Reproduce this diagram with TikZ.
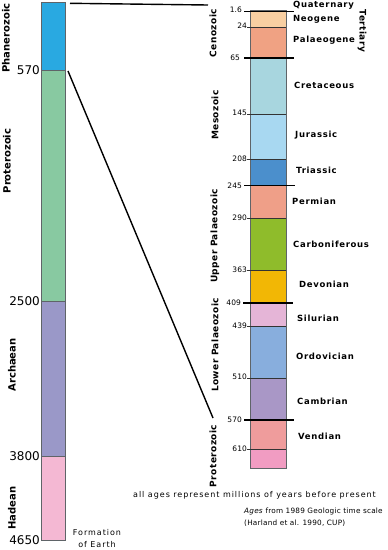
\documentclass[tikz,border=0pt]{standalone}
\usepackage{fontspec}
\setmainfont{DejaVu Sans}
\usepackage{tikz}
\usetikzlibrary{positioning}
\usepackage{xcolor}
\definecolor{phanc}{HTML}{29A9E1}
\definecolor{protc}{HTML}{88C9A1}
\definecolor{archc}{HTML}{9A98C8}
\definecolor{hadc}{HTML}{F4B8D3}
\definecolor{quatc}{HTML}{C9C39A}
\definecolor{neoc}{HTML}{F8CFA2}
\definecolor{palc}{HTML}{F0A283}
\definecolor{cretc}{HTML}{A8D6DF}
\definecolor{jurc}{HTML}{A8D8F1}
\definecolor{triac}{HTML}{4B8FCC}
\definecolor{permc}{HTML}{EF9F88}
\definecolor{carbc}{HTML}{8FBC2B}
\definecolor{devc}{HTML}{F2B705}
\definecolor{silc}{HTML}{E5B5D7}
\definecolor{ordc}{HTML}{88AEDD}
\definecolor{cambc}{HTML}{A997C6}
\definecolor{vendc}{HTML}{EF9C9C}
\definecolor{lastc}{HTML}{F19CC2}
\definecolor{edgec}{HTML}{5F6468}

\begin{document}
\begin{tikzpicture}[x=1pt, y=-1pt,
  period/.style={font=\bfseries\fontsize{8.5}{9}\selectfont\addfontfeature{LetterSpace=8}, anchor=west, inner sep=0pt},
  era/.style={font=\bfseries\fontsize{9}{9}\selectfont\addfontfeature{LetterSpace=5}, rotate=90, inner sep=0pt},
  eon/.style={font=\bfseries\fontsize{10}{10}\selectfont, rotate=90, inner sep=0pt},
  bigage/.style={font=\fontsize{12}{12}\selectfont, anchor=east, inner sep=0pt},
  smallage/.style={font=\fontsize{7.5}{8}\selectfont, anchor=east, inner sep=0pt},
  bound/.style={line width=1.8pt},
  link/.style={line width=1.4pt}]
  \useasboundingbox (0,0) rectangle (388,550);
  % left column: eons
  \fill[phanc] (41,2) rectangle (65.5,70.5);
  \fill[protc] (41,70.5) rectangle (65.5,301);
  \fill[archc] (41,301) rectangle (65.5,456.5);
  \fill[hadc] (41,456.5) rectangle (65.5,540);
  \draw[edgec] (41,70.5) -- (65.5,70.5);
  \draw[edgec] (41,301) -- (65.5,301);
  \draw[edgec] (41,456.5) -- (65.5,456.5);
  \draw[edgec] (41,2) rectangle (65.5,540);
  \node[bigage] at (40,70.5) {570};
  \node[bigage] at (40,301) {2500};
  \node[bigage] at (40,456.5) {3800};
  \node[bigage] at (40,540) {4650};
  \node[eon] at (6,38) {Phanerozoic};
  \node[eon] at (7,161) {Proterozoic};
  \node[eon] at (12,365) {Archaean};
  \node[eon] at (12,508) {Hadean};
  \node[font=\fontsize{8}{12}\selectfont\addfontfeature{LetterSpace=12}, align=center, inner sep=0pt] at (97,539) {Formation\\of Earth};
  % right column: periods
  \fill[quatc] (250,10) rectangle (286,11.5);
  \fill[neoc] (250,11.5) rectangle (286,26.7);
  \fill[palc] (250,26.7) rectangle (286,58);
  \fill[cretc] (250,58) rectangle (286,114);
  \fill[jurc] (250,114) rectangle (286,159);
  \fill[triac] (250,159) rectangle (286,185.5);
  \fill[permc] (250,185.5) rectangle (286,218);
  \fill[carbc] (250,218) rectangle (286,270);
  \fill[devc] (250,270) rectangle (286,303);
  \fill[silc] (250,303) rectangle (286,326);
  \fill[ordc] (250,326) rectangle (286,378);
  \fill[cambc] (250,378) rectangle (286,420);
  \fill[vendc] (250,420) rectangle (286,449);
  \fill[lastc] (250,449) rectangle (286,468);
  \draw[edgec] (250,10) rectangle (286,468);
  \draw[black!80] (247,26.7) -- (286,26.7);
  \draw[black!80] (247,114) -- (286,114);
  \draw[black!80] (247,159) -- (286,159);
  \draw[black!80] (247,218) -- (286,218);
  \draw[black!80] (247,270) -- (286,270);
  \draw[black!80] (247,326) -- (286,326);
  \draw[black!80] (247,378) -- (286,378);
  \draw[black!80] (247,449) -- (286,449);
  \draw[bound] (244,11.5) -- (294,11.5);
  \draw[bound] (244,58) -- (294,58);
  \draw[bound] (244,185.5) -- (295,185.5);
  \draw[bound] (243,303) -- (293,303);
  \draw[bound] (244,420) -- (294,420);
  \node[smallage] at (242,10) {1.6};
  \node[smallage] at (247,26) {24};
  \node[smallage] at (240,58) {65};
  \node[smallage] at (247,113) {145};
  \node[smallage] at (247,159) {208};
  \node[smallage] at (242,185.5) {245};
  \node[smallage] at (247,218) {290};
  \node[smallage] at (247,270) {363};
  \node[smallage] at (241,303) {409};
  \node[smallage] at (247,326) {439};
  \node[smallage] at (247,377) {510};
  \node[smallage] at (242,420) {570};
  \node[smallage] at (247,449) {610};
  \node[period] at (293,5) {Quaternary};
  \node[period] at (293,19) {Neogene};
  \node[period] at (293,40) {Palaeogene};
  \node[period] at (294,85) {Cretaceous};
  \node[period] at (295,135) {Jurassic};
  \node[period] at (296,170) {Triassic};
  \node[period] at (292,201) {Permian};
  \node[period] at (293,244) {Carboniferous};
  \node[period] at (299,284) {Devonian};
  \node[period] at (297,318) {Silurian};
  \node[period] at (296,356) {Ordovician};
  \node[period] at (297,401) {Cambrian};
  \node[period] at (298,436) {Vendian};
  \node[era] at (213,33) {Cenozoic};
  \node[era] at (215,115) {Mesozoic};
  \node[era] at (215,236) {Upper Palaeozoic};
  \node[era] at (215,345) {Lower Palaeozoic};
  \node[era] at (213,456) {Proterozoic};
  \node[era, rotate=180] at (362,31) {Tertiary};
  % links from the Phanerozoic to the expanded column
  \coordinate (phantop) at (70,3.3);
  \coordinate (cenotop) at (208,5);
  \coordinate (phanbase) at (68,71);
  \coordinate (vendtop) at (213,418);
  \draw[link] (phantop) -- (cenotop);
  \draw[link] (phanbase) -- (vendtop);
  % notes
  \node[font=\fontsize{8}{9}\selectfont\addfontfeature{LetterSpace=12}, anchor=west, inner sep=0pt] at (133,495)
    {all ages represent millions of years before present};
  \node[font=\fontsize{7.3}{12}\selectfont\addfontfeature{LetterSpace=3}, anchor=north west, align=left, inner sep=0pt] at (244,507.5)
    {\textit{Ages} from 1989 Geologic time scale\\(Harland et al. 1990, CUP)};
\end{tikzpicture}
\end{document}
